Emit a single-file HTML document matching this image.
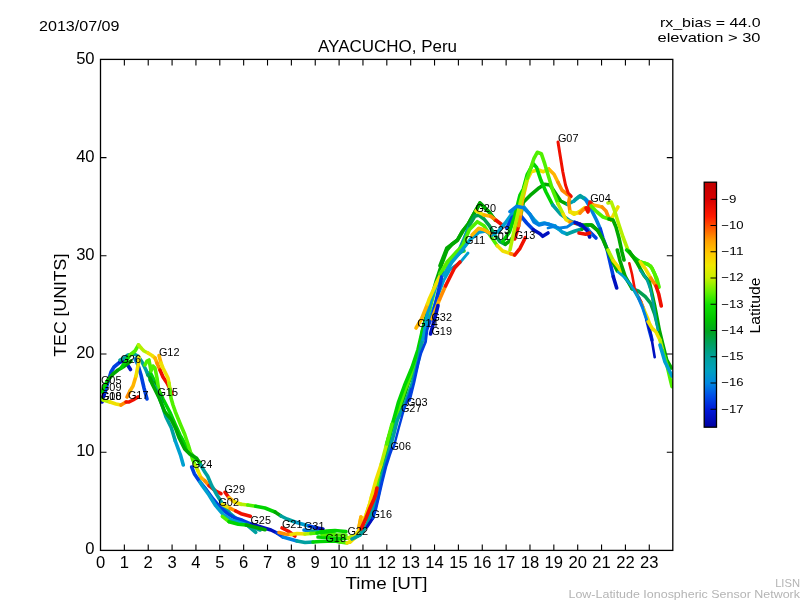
<!DOCTYPE html>
<html><head><meta charset="utf-8"><style>
html,body{margin:0;padding:0;background:#fff;width:800px;height:600px;overflow:hidden}
svg{display:block;will-change:transform}
</style></head><body>
<svg width="800" height="600" viewBox="0 0 800 600">
<rect width="800" height="600" fill="#fff"/>
<defs><clipPath id="ax"><rect x="100.5" y="59.4" width="572.3" height="491.0"/></clipPath></defs><g clip-path="url(#ax)"><g><path d="M150.0 372.0 L154.0 380.0 L157.5 387.5 L163.0 399.0 L170.0 412.5 L175.0 424.0 L180.0 435.0 L185.0 444.0 L190.0 452.5 L195.0 458.0 L200.0 462.5" stroke="#00d400" stroke-width="3.6" fill="none" stroke-linecap="round" stroke-linejoin="round"/>
<path d="M318.0 537.0 L326.0 537.5 L334.0 538.0 L342.0 538.5 L348.0 538.0" stroke="#00d400" stroke-width="3.6" fill="none" stroke-linecap="round" stroke-linejoin="round"/>
<path d="M348.0 538.0 L352.0 536.0" stroke="#b4f000" stroke-width="3.6" fill="none" stroke-linecap="round" stroke-linejoin="round"/>
<path d="M322.0 534.5 L330.0 534.5 L338.0 535.0 L346.0 535.0" stroke="#50f000" stroke-width="3.6" fill="none" stroke-linecap="round" stroke-linejoin="round"/>
<path d="M102.0 402.0 L105.0 392.0" stroke="#0010c0" stroke-width="3.6" fill="none" stroke-linecap="round" stroke-linejoin="round"/>
<path d="M105.0 392.0 L108.0 382.0 L111.0 372.0 L114.0 367.0 L120.0 362.0" stroke="#0040e0" stroke-width="3.6" fill="none" stroke-linecap="round" stroke-linejoin="round"/>
<path d="M120.0 362.0 L124.0 361.0 L127.0 364.0 L130.5 369.5" stroke="#0010c0" stroke-width="3.6" fill="none" stroke-linecap="round" stroke-linejoin="round"/>
<path d="M102.0 392.0 L104.0 387.0 L108.0 380.0" stroke="#00d400" stroke-width="3.6" fill="none" stroke-linecap="round" stroke-linejoin="round"/>
<path d="M108.0 380.0 L113.0 374.0 L118.0 370.0 L123.0 367.0 L127.0 364.0 L131.0 361.0" stroke="#00a800" stroke-width="3.6" fill="none" stroke-linecap="round" stroke-linejoin="round"/>
<path d="M120.0 360.0 L124.0 358.0 L128.0 355.0 L134.0 354.0 L138.0 356.0 L142.0 362.0 L146.0 370.0 L148.0 375.0" stroke="#00a0a0" stroke-width="3.6" fill="none" stroke-linecap="round" stroke-linejoin="round"/>
<path d="M148.0 375.0 L154.0 383.0" stroke="#00a050" stroke-width="3.6" fill="none" stroke-linecap="round" stroke-linejoin="round"/>
<path d="M154.0 383.0 L159.0 391.0 L161.0 398.0 L162.0 402.0" stroke="#00a800" stroke-width="3.6" fill="none" stroke-linecap="round" stroke-linejoin="round"/>
<path d="M135.0 359.0 L138.0 365.0" stroke="#0080e0" stroke-width="3.6" fill="none" stroke-linecap="round" stroke-linejoin="round"/>
<path d="M138.0 365.0 L141.0 375.0 L144.0 388.0 L147.0 399.0" stroke="#0040e0" stroke-width="3.6" fill="none" stroke-linecap="round" stroke-linejoin="round"/>
<path d="M101.0 398.0 L103.0 400.0" stroke="#00d400" stroke-width="3.6" fill="none" stroke-linecap="round" stroke-linejoin="round"/>
<path d="M103.0 400.0 L110.0 402.0" stroke="#b4f000" stroke-width="3.6" fill="none" stroke-linecap="round" stroke-linejoin="round"/>
<path d="M110.0 402.0 L116.0 404.0 L121.0 405.0" stroke="#f0e000" stroke-width="3.6" fill="none" stroke-linecap="round" stroke-linejoin="round"/>
<path d="M121.0 405.0 L126.0 402.0" stroke="#ff8c00" stroke-width="3.6" fill="none" stroke-linecap="round" stroke-linejoin="round"/>
<path d="M126.0 402.0 L129.0 402.0 L133.0 400.0 L138.0 397.0" stroke="#f01000" stroke-width="3.6" fill="none" stroke-linecap="round" stroke-linejoin="round"/>
<path d="M127.0 397.0 L130.0 391.0" stroke="#ff8c00" stroke-width="3.6" fill="none" stroke-linecap="round" stroke-linejoin="round"/>
<path d="M130.0 391.0 L133.0 386.0 L136.0 376.0" stroke="#ffb400" stroke-width="3.6" fill="none" stroke-linecap="round" stroke-linejoin="round"/>
<path d="M136.0 376.0 L137.5 368.0 L139.0 361.0 L139.0 357.0" stroke="#f0e000" stroke-width="3.6" fill="none" stroke-linecap="round" stroke-linejoin="round"/>
<path d="M121.0 368.0 L126.0 361.0 L130.0 355.0" stroke="#00d400" stroke-width="3.6" fill="none" stroke-linecap="round" stroke-linejoin="round"/>
<path d="M130.0 355.0 L135.0 351.0 L138.5 345.0" stroke="#50f000" stroke-width="3.6" fill="none" stroke-linecap="round" stroke-linejoin="round"/>
<path d="M138.5 345.0 L142.0 349.0 L144.0 351.0 L148.0 353.0" stroke="#b4f000" stroke-width="3.6" fill="none" stroke-linecap="round" stroke-linejoin="round"/>
<path d="M148.0 353.0 L152.0 355.5 L155.0 358.0" stroke="#f0e000" stroke-width="3.6" fill="none" stroke-linecap="round" stroke-linejoin="round"/>
<path d="M155.0 358.0 L157.0 363.0" stroke="#ffb400" stroke-width="3.6" fill="none" stroke-linecap="round" stroke-linejoin="round"/>
<path d="M157.0 363.0 L160.0 370.0" stroke="#ff8c00" stroke-width="3.6" fill="none" stroke-linecap="round" stroke-linejoin="round"/>
<path d="M160.0 370.0 L163.0 377.0 L167.0 383.0 L170.0 389.0 L172.0 394.0" stroke="#f01000" stroke-width="3.6" fill="none" stroke-linecap="round" stroke-linejoin="round"/>
<path d="M159.0 355.5 L161.0 363.0" stroke="#ffb400" stroke-width="3.6" fill="none" stroke-linecap="round" stroke-linejoin="round"/>
<path d="M161.0 363.0 L163.0 368.0 L166.0 374.0 L168.0 378.0 L169.0 383.0" stroke="#f0e000" stroke-width="3.6" fill="none" stroke-linecap="round" stroke-linejoin="round"/>
<path d="M169.0 383.0 L170.0 390.0" stroke="#b4f000" stroke-width="3.6" fill="none" stroke-linecap="round" stroke-linejoin="round"/>
<path d="M170.0 390.0 L171.0 398.0 L173.0 405.0 L175.3 411.7 L180.7 425.0 L184.7 434.3 L188.7 446.3 L192.7 459.7 L195.3 465.0" stroke="#50f000" stroke-width="3.6" fill="none" stroke-linecap="round" stroke-linejoin="round"/>
<path d="M195.3 465.0 L198.0 471.0" stroke="#b4f000" stroke-width="3.6" fill="none" stroke-linecap="round" stroke-linejoin="round"/>
<path d="M198.0 471.0 L201.0 477.7" stroke="#f0e000" stroke-width="3.6" fill="none" stroke-linecap="round" stroke-linejoin="round"/>
<path d="M201.0 477.7 L205.0 481.0" stroke="#ffb400" stroke-width="3.6" fill="none" stroke-linecap="round" stroke-linejoin="round"/>
<path d="M205.0 481.0 L209.0 485.7" stroke="#ff8c00" stroke-width="3.6" fill="none" stroke-linecap="round" stroke-linejoin="round"/>
<path d="M209.0 485.7 L215.7 491.0 L221.0 493.7" stroke="#f01000" stroke-width="3.6" fill="none" stroke-linecap="round" stroke-linejoin="round"/>
<path d="M145.0 365.0 L147.0 361.0 L149.0 360.0 L151.0 371.0 L153.0 366.0 L155.0 368.0 L157.0 378.0 L158.0 385.0 L159.0 392.0" stroke="#50f000" stroke-width="3.6" fill="none" stroke-linecap="round" stroke-linejoin="round"/>
<path d="M150.0 380.0 L155.3 387.7 L160.7 401.0 L166.0 417.0 L171.3 427.7 L175.3 441.0" stroke="#00a0a0" stroke-width="3.6" fill="none" stroke-linecap="round" stroke-linejoin="round"/>
<path d="M175.3 441.0 L180.7 455.7 L183.3 465.0" stroke="#00a0d0" stroke-width="3.6" fill="none" stroke-linecap="round" stroke-linejoin="round"/>
<path d="M150.0 378.0 L152.7 385.0 L159.3 398.3 L164.7 411.7 L171.3 419.7 L175.3 427.7 L179.3 438.3 L184.7 449.0 L190.0 454.3 L196.7 458.3 L200.7 465.0" stroke="#00a800" stroke-width="3.6" fill="none" stroke-linecap="round" stroke-linejoin="round"/>
<path d="M200.7 465.0 L205.0 472.3 L207.7 476.3 L211.7 485.7 L217.0 495.0 L223.7 505.7 L230.3 513.7 L238.3 520.3 L246.3 524.3 L255.7 532.3" stroke="#00a0a0" stroke-width="3.6" fill="none" stroke-linecap="round" stroke-linejoin="round"/>
<path d="M191.7 467.0 L194.3 473.7 L199.7 481.7 L206.3 489.7 L213.0 499.0 L219.7 507.0 L227.7 513.7 L234.3 517.7 L242.3 520.3 L251.7 524.3" stroke="#0040e0" stroke-width="3.6" fill="none" stroke-linecap="round" stroke-linejoin="round"/>
<path d="M251.7 524.3 L265.0 528.3 L271.0 530.0 L277.0 533.0" stroke="#0010c0" stroke-width="3.6" fill="none" stroke-linecap="round" stroke-linejoin="round"/>
<path d="M277.0 533.0 L283.0 537.0" stroke="#0040e0" stroke-width="3.6" fill="none" stroke-linecap="round" stroke-linejoin="round"/>
<path d="M283.0 537.0 L290.0 539.0 L297.0 541.0" stroke="#0080e0" stroke-width="3.6" fill="none" stroke-linecap="round" stroke-linejoin="round"/>
<path d="M297.0 541.0 L305.0 542.5 L313.0 542.0" stroke="#00a0a0" stroke-width="3.6" fill="none" stroke-linecap="round" stroke-linejoin="round"/>
<path d="M313.0 542.0 L320.0 541.5 L335.0 541.0 L340.0 542.0" stroke="#00d400" stroke-width="3.6" fill="none" stroke-linecap="round" stroke-linejoin="round"/>
<path d="M340.0 542.0 L347.0 543.0" stroke="#50f000" stroke-width="3.6" fill="none" stroke-linecap="round" stroke-linejoin="round"/>
<path d="M347.0 543.0 L351.0 541.0 L356.0 537.0" stroke="#f0e000" stroke-width="3.6" fill="none" stroke-linecap="round" stroke-linejoin="round"/>
<path d="M200.0 482.0 L202.3 485.7 L209.0 495.0 L215.7 505.7 L223.7 515.0 L231.7 520.3 L241.0 523.0 L249.0 525.7" stroke="#00a0d0" stroke-width="3.6" fill="none" stroke-linecap="round" stroke-linejoin="round"/>
<path d="M249.0 525.7 L260.0 530.0" stroke="#00a0a0" stroke-width="3.6" fill="none" stroke-linecap="round" stroke-linejoin="round"/>
<path d="M225.0 492.3 L229.0 497.7" stroke="#f01000" stroke-width="3.6" fill="none" stroke-linecap="round" stroke-linejoin="round"/>
<path d="M229.0 497.7 L234.3 501.7" stroke="#ffb400" stroke-width="3.6" fill="none" stroke-linecap="round" stroke-linejoin="round"/>
<path d="M234.3 501.7 L241.0 504.3" stroke="#f0e000" stroke-width="3.6" fill="none" stroke-linecap="round" stroke-linejoin="round"/>
<path d="M241.0 504.3 L247.7 505.0" stroke="#b4f000" stroke-width="3.6" fill="none" stroke-linecap="round" stroke-linejoin="round"/>
<path d="M247.7 505.0 L255.7 506.3" stroke="#50f000" stroke-width="3.6" fill="none" stroke-linecap="round" stroke-linejoin="round"/>
<path d="M255.7 506.3 L265.0 508.0 L275.0 512.0" stroke="#00d400" stroke-width="3.6" fill="none" stroke-linecap="round" stroke-linejoin="round"/>
<path d="M275.0 512.0 L281.0 516.0" stroke="#00a800" stroke-width="3.6" fill="none" stroke-linecap="round" stroke-linejoin="round"/>
<path d="M281.0 516.0 L287.0 519.0 L295.0 522.0" stroke="#00a0a0" stroke-width="3.6" fill="none" stroke-linecap="round" stroke-linejoin="round"/>
<path d="M295.0 522.0 L302.0 524.0 L309.0 526.0" stroke="#00a0d0" stroke-width="3.6" fill="none" stroke-linecap="round" stroke-linejoin="round"/>
<path d="M309.0 526.0 L317.0 528.0" stroke="#0040e0" stroke-width="3.6" fill="none" stroke-linecap="round" stroke-linejoin="round"/>
<path d="M317.0 528.0 L323.0 529.0" stroke="#0010c0" stroke-width="3.6" fill="none" stroke-linecap="round" stroke-linejoin="round"/>
<path d="M222.3 504.3 L230.3 508.3" stroke="#f0e000" stroke-width="3.6" fill="none" stroke-linecap="round" stroke-linejoin="round"/>
<path d="M230.3 508.3 L235.7 511.0" stroke="#ff8c00" stroke-width="3.6" fill="none" stroke-linecap="round" stroke-linejoin="round"/>
<path d="M235.7 511.0 L241.0 513.7 L250.3 516.3" stroke="#f01000" stroke-width="3.6" fill="none" stroke-linecap="round" stroke-linejoin="round"/>
<path d="M222.3 516.3 L229.0 521.7" stroke="#50f000" stroke-width="3.6" fill="none" stroke-linecap="round" stroke-linejoin="round"/>
<path d="M229.0 521.7 L238.3 524.3 L246.3 525.0" stroke="#00d400" stroke-width="3.6" fill="none" stroke-linecap="round" stroke-linejoin="round"/>
<path d="M246.3 525.0 L254.3 527.0 L265.0 529.7" stroke="#00a800" stroke-width="3.6" fill="none" stroke-linecap="round" stroke-linejoin="round"/>
<path d="M304.0 530.0 L311.0 531.0" stroke="#0080e0" stroke-width="3.6" fill="none" stroke-linecap="round" stroke-linejoin="round"/>
<path d="M311.0 531.0 L320.0 532.0" stroke="#00a0a0" stroke-width="3.6" fill="none" stroke-linecap="round" stroke-linejoin="round"/>
<path d="M320.0 532.0 L327.0 531.0 L335.0 530.5 L340.0 531.0 L346.0 531.5" stroke="#00d400" stroke-width="3.6" fill="none" stroke-linecap="round" stroke-linejoin="round"/>
<path d="M282.0 528.0 L288.0 531.0 L295.0 536.0" stroke="#f01000" stroke-width="3.6" fill="none" stroke-linecap="round" stroke-linejoin="round"/>
<path d="M279.0 532.5 L285.0 534.0 L291.0 534.5" stroke="#ff8c00" stroke-width="3.6" fill="none" stroke-linecap="round" stroke-linejoin="round"/>
<path d="M291.0 534.5 L297.0 533.5 L305.0 534.0" stroke="#f0e000" stroke-width="3.6" fill="none" stroke-linecap="round" stroke-linejoin="round"/>
<path d="M305.0 534.0 L311.0 533.5" stroke="#b4f000" stroke-width="3.6" fill="none" stroke-linecap="round" stroke-linejoin="round"/>
<path d="M311.0 533.5 L317.0 533.0" stroke="#50f000" stroke-width="3.6" fill="none" stroke-linecap="round" stroke-linejoin="round"/>
<path d="M317.0 533.0 L325.0 532.0 L335.0 531.0" stroke="#00d400" stroke-width="3.6" fill="none" stroke-linecap="round" stroke-linejoin="round"/>
<path d="M359.0 527.0 L361.0 517.0" stroke="#ffb400" stroke-width="3.6" fill="none" stroke-linecap="round" stroke-linejoin="round"/>
<path d="M350.0 542.0 L356.0 535.0 L362.0 526.0 L366.0 515.0 L370.0 503.0 L372.0 495.0" stroke="#f0e000" stroke-width="3.6" fill="none" stroke-linecap="round" stroke-linejoin="round"/>
<path d="M360.0 531.0 L366.0 518.0 L370.0 508.0 L374.0 499.0 L375.5 495.0" stroke="#f01000" stroke-width="3.6" fill="none" stroke-linecap="round" stroke-linejoin="round"/>
<path d="M366.0 527.0 L372.0 518.0" stroke="#0010c0" stroke-width="3.6" fill="none" stroke-linecap="round" stroke-linejoin="round"/>
<path d="M372.0 518.0 L375.0 508.0 L378.0 495.0" stroke="#0040e0" stroke-width="3.6" fill="none" stroke-linecap="round" stroke-linejoin="round"/>
<path d="M352.0 539.0 L360.0 535.0 L365.0 528.0 L367.0 525.0" stroke="#00a0a0" stroke-width="3.6" fill="none" stroke-linecap="round" stroke-linejoin="round"/>
<path d="M380.0 478.0 L383.0 468.0 L386.7 444.0 L391.0 430.0 L395.0 420.0 L400.5 408.0 L408.0 384.0 L415.5 364.5 L419.0 352.0 L423.0 328.0 L430.5 301.0 L436.5 280.0 L442.5 262.0 L447.0 250.0 L452.0 244.3 L457.3 240.3 L462.7 231.0 L468.0 224.3 L474.7 212.3 L480.0 203.0 L484.0 207.0 L489.3 212.3 L495.0 220.0" stroke="#00a800" stroke-width="3.6" fill="none" stroke-linecap="round" stroke-linejoin="round"/>
<path d="M376.0 490.0 L378.7 478.7 L384.0 461.0 L388.0 440.0 L393.3 422.0 L399.0 408.0 L405.0 390.0 L414.0 367.5 L417.0 360.0 L420.0 350.0 L423.0 337.0" stroke="#50f000" stroke-width="3.6" fill="none" stroke-linecap="round" stroke-linejoin="round"/>
<path d="M423.0 337.0 L427.5 318.0" stroke="#00d400" stroke-width="3.6" fill="none" stroke-linecap="round" stroke-linejoin="round"/>
<path d="M427.5 318.0 L436.5 283.0 L447.0 262.0 L456.0 253.0 L464.0 251.0" stroke="#50f000" stroke-width="3.6" fill="none" stroke-linecap="round" stroke-linejoin="round"/>
<path d="M381.0 472.0 L385.0 455.0 L389.0 440.0 L392.5 424.0 L398.5 402.0 L404.5 385.5 L412.0 367.5 L418.0 349.5 L422.5 330.0" stroke="#00d400" stroke-width="3.6" fill="none" stroke-linecap="round" stroke-linejoin="round"/>
<path d="M350.0 542.0 L356.0 535.0 L362.0 526.0 L366.0 515.0 L370.0 503.0 L372.0 495.0 L376.0 480.0 L381.3 464.0" stroke="#f0e000" stroke-width="3.6" fill="none" stroke-linecap="round" stroke-linejoin="round"/>
<path d="M381.3 464.0 L386.7 444.0" stroke="#b4f000" stroke-width="3.6" fill="none" stroke-linecap="round" stroke-linejoin="round"/>
<path d="M386.7 444.0 L392.0 424.0" stroke="#50f000" stroke-width="3.6" fill="none" stroke-linecap="round" stroke-linejoin="round"/>
<path d="M352.0 539.0 L360.0 535.0 L365.0 528.0 L367.0 525.0 L372.0 510.0 L377.3 500.0 L382.7 473.0 L388.0 454.7 L393.3 436.0 L397.3 420.0 L405.0 403.5 L412.5 382.5 L418.5 360.0 L421.0 345.0 L424.0 335.0" stroke="#00a0a0" stroke-width="3.6" fill="none" stroke-linecap="round" stroke-linejoin="round"/>
<path d="M424.0 335.0 L427.5 313.0 L433.5 292.0 L439.5 277.0" stroke="#00a0d0" stroke-width="3.6" fill="none" stroke-linecap="round" stroke-linejoin="round"/>
<path d="M439.5 277.0 L448.5 262.0 L456.0 256.0 L463.5 250.0" stroke="#00a0a0" stroke-width="3.6" fill="none" stroke-linecap="round" stroke-linejoin="round"/>
<path d="M423.0 340.0 L430.5 316.0 L436.5 299.5 L444.0 280.0 L450.0 269.5 L460.5 262.0 L468.0 253.0" stroke="#00a0d0" stroke-width="2.8" fill="none" stroke-linecap="round" stroke-linejoin="round"/>
<path d="M409.5 400.5 L414.0 382.5 L418.5 362.0 L421.0 353.0 L425.5 342.0 L427.0 330.0 L431.5 318.0" stroke="#0040e0" stroke-width="2.8" fill="none" stroke-linecap="round" stroke-linejoin="round"/>
<path d="M367.0 527.0 L373.0 518.0" stroke="#0010c0" stroke-width="3.0" fill="none" stroke-linecap="round" stroke-linejoin="round"/>
<path d="M373.0 518.0 L376.0 508.0 L379.0 495.0 L382.0 482.0 L386.0 466.0 L389.5 455.0 L392.0 448.0" stroke="#0040e0" stroke-width="3.0" fill="none" stroke-linecap="round" stroke-linejoin="round"/>
<path d="M393.5 448.0 L398.5 429.0 L403.5 411.0 L409.0 396.0 L411.0 389.0" stroke="#0040e0" stroke-width="2.4" fill="none" stroke-linecap="round" stroke-linejoin="round"/>
<path d="M359.0 527.0 L361.0 517.0" stroke="#ffb400" stroke-width="3.6" fill="none" stroke-linecap="round" stroke-linejoin="round"/>
<path d="M361.0 529.0 L366.0 518.0 L370.0 508.0 L374.0 499.0 L375.5 495.0 L377.0 488.0" stroke="#f01000" stroke-width="3.6" fill="none" stroke-linecap="round" stroke-linejoin="round"/>
<path d="M416.0 328.0 L421.5 319.0 L427.5 304.0" stroke="#ffb400" stroke-width="3.6" fill="none" stroke-linecap="round" stroke-linejoin="round"/>
<path d="M427.5 304.0 L429.0 299.5 L436.5 283.0 L445.5 265.0" stroke="#f0e000" stroke-width="3.6" fill="none" stroke-linecap="round" stroke-linejoin="round"/>
<path d="M445.5 265.0 L450.0 259.0 L457.5 253.0" stroke="#b4f000" stroke-width="3.6" fill="none" stroke-linecap="round" stroke-linejoin="round"/>
<path d="M432.0 319.0 L436.5 299.5 L441.0 280.0 L442.5 272.5" stroke="#0040e0" stroke-width="3.6" fill="none" stroke-linecap="round" stroke-linejoin="round"/>
<path d="M432.0 319.0 L439.5 299.5" stroke="#ffb400" stroke-width="3.6" fill="none" stroke-linecap="round" stroke-linejoin="round"/>
<path d="M439.5 299.5 L445.5 286.0" stroke="#ff8c00" stroke-width="3.6" fill="none" stroke-linecap="round" stroke-linejoin="round"/>
<path d="M445.5 286.0 L450.0 277.0 L454.5 268.0 L460.0 262.0" stroke="#f01000" stroke-width="3.6" fill="none" stroke-linecap="round" stroke-linejoin="round"/>
<path d="M430.5 334.0 L435.0 317.5 L438.0 305.5" stroke="#0010c0" stroke-width="3.6" fill="none" stroke-linecap="round" stroke-linejoin="round"/>
<path d="M440.0 265.7 L446.7 248.3 L452.0 244.3 L457.3 240.3 L462.7 231.0 L468.0 224.3 L474.7 212.3 L480.0 203.0 L484.0 207.0 L489.3 212.3 L495.0 220.0" stroke="#00a800" stroke-width="3.6" fill="none" stroke-linecap="round" stroke-linejoin="round"/>
<path d="M458.7 251.0 L464.0 239.0 L469.3 225.7" stroke="#00a0a0" stroke-width="3.6" fill="none" stroke-linecap="round" stroke-linejoin="round"/>
<path d="M469.3 225.7 L474.7 216.3 L478.7 215.0 L484.0 219.0 L489.3 225.7 L494.7 235.0 L500.0 241.7 L505.3 244.3" stroke="#00a050" stroke-width="3.6" fill="none" stroke-linecap="round" stroke-linejoin="round"/>
<path d="M505.3 244.3 L510.7 240.3 L516.0 232.3 L520.0 219.0 L523.3 202.3 L531.3 194.3 L539.3 187.7 L544.7 184.3 L550.0 185.0 L555.3 193.0 L560.7 201.0 L567.3 204.3" stroke="#00a800" stroke-width="3.6" fill="none" stroke-linecap="round" stroke-linejoin="round"/>
<path d="M567.3 204.3 L574.0 201.0" stroke="#00a0a0" stroke-width="3.6" fill="none" stroke-linecap="round" stroke-linejoin="round"/>
<path d="M574.0 201.0 L579.3 196.3 L584.7 198.3 L590.0 203.7" stroke="#00a0d0" stroke-width="3.6" fill="none" stroke-linecap="round" stroke-linejoin="round"/>
<path d="M476.0 211.0 L484.0 215.0" stroke="#f0e000" stroke-width="3.6" fill="none" stroke-linecap="round" stroke-linejoin="round"/>
<path d="M484.0 215.0 L490.7 216.3" stroke="#ffb400" stroke-width="3.6" fill="none" stroke-linecap="round" stroke-linejoin="round"/>
<path d="M490.7 216.3 L496.0 220.3" stroke="#ff8c00" stroke-width="3.6" fill="none" stroke-linecap="round" stroke-linejoin="round"/>
<path d="M496.0 220.3 L501.3 224.3 L503.0 227.0" stroke="#f01000" stroke-width="3.6" fill="none" stroke-linecap="round" stroke-linejoin="round"/>
<path d="M440.0 273.7 L448.0 261.7 L456.0 252.3 L462.7 245.7 L469.3 229.7 L477.3 221.7 L484.0 225.7 L490.7 236.3 L497.3 245.7" stroke="#50f000" stroke-width="3.6" fill="none" stroke-linecap="round" stroke-linejoin="round"/>
<path d="M497.3 245.7 L502.7 251.0 L510.7 253.7" stroke="#f0e000" stroke-width="3.6" fill="none" stroke-linecap="round" stroke-linejoin="round"/>
<path d="M510.7 253.7 L514.7 255.0" stroke="#ff8c00" stroke-width="3.6" fill="none" stroke-linecap="round" stroke-linejoin="round"/>
<path d="M514.7 255.0 L520.0 248.3 L525.3 237.7" stroke="#f01000" stroke-width="3.6" fill="none" stroke-linecap="round" stroke-linejoin="round"/>
<path d="M444.0 275.0 L452.0 262.0 L461.3 251.0 L470.7 239.0 L478.7 232.3 L485.3 231.0 L492.0 235.0 L498.7 231.0 L505.3 223.0 L512.0 213.7 L518.7 205.7 L524.0 207.0 L529.3 213.7 L534.7 220.3 L538.7 224.3 L544.0 223.0 L549.3 224.3 L554.7 227.0 L560.0 229.7" stroke="#00a0d0" stroke-width="3.6" fill="none" stroke-linecap="round" stroke-linejoin="round"/>
<path d="M472.0 235.0 L478.7 228.3 L484.0 229.7 L490.7 233.7" stroke="#ffb400" stroke-width="3.6" fill="none" stroke-linecap="round" stroke-linejoin="round"/>
<path d="M506.7 228.3 L512.0 217.7 L517.3 213.7 L521.3 216.3 L526.7 223.0 L533.3 229.7" stroke="#0040e0" stroke-width="3.6" fill="none" stroke-linecap="round" stroke-linejoin="round"/>
<path d="M533.3 229.7 L540.0 233.7 L542.7 236.3 L548.0 233.0" stroke="#0010c0" stroke-width="3.6" fill="none" stroke-linecap="round" stroke-linejoin="round"/>
<path d="M514.7 239.0 L518.7 225.7" stroke="#f01000" stroke-width="3.6" fill="none" stroke-linecap="round" stroke-linejoin="round"/>
<path d="M518.7 225.7 L520.7 214.0" stroke="#ff8c00" stroke-width="3.6" fill="none" stroke-linecap="round" stroke-linejoin="round"/>
<path d="M520.7 214.0 L522.0 202.0 L527.3 179.7" stroke="#ffb400" stroke-width="3.6" fill="none" stroke-linecap="round" stroke-linejoin="round"/>
<path d="M527.3 179.7 L531.3 171.7 L538.0 169.7 L543.3 171.7 L548.7 169.0" stroke="#f0e000" stroke-width="3.6" fill="none" stroke-linecap="round" stroke-linejoin="round"/>
<path d="M548.7 169.0 L554.0 174.3 L558.0 182.3" stroke="#ffb400" stroke-width="3.6" fill="none" stroke-linecap="round" stroke-linejoin="round"/>
<path d="M558.0 182.3 L562.0 190.3 L567.3 194.3" stroke="#ff8c00" stroke-width="3.6" fill="none" stroke-linecap="round" stroke-linejoin="round"/>
<path d="M567.3 194.3 L570.0 195.7 L568.7 202.3 L570.0 211.7" stroke="#ff8c00" stroke-width="3.6" fill="none" stroke-linecap="round" stroke-linejoin="round"/>
<path d="M570.0 211.7 L574.0 214.3 L579.3 211.7 L584.7 207.7" stroke="#f0e000" stroke-width="3.6" fill="none" stroke-linecap="round" stroke-linejoin="round"/>
<path d="M502.7 241.7 L509.3 232.3 L514.7 216.3 L520.0 195.0 L523.3 189.0 L527.3 174.3 L533.3 163.7 L536.7 167.7 L540.7 179.7 L546.0 192.0 L552.7 205.0" stroke="#00d400" stroke-width="3.6" fill="none" stroke-linecap="round" stroke-linejoin="round"/>
<path d="M552.7 205.0 L560.7 214.3 L570.0 221.0 L580.0 225.0" stroke="#00a0a0" stroke-width="3.6" fill="none" stroke-linecap="round" stroke-linejoin="round"/>
<path d="M580.0 225.0 L590.0 232.0 L596.0 238.0" stroke="#0040e0" stroke-width="3.6" fill="none" stroke-linecap="round" stroke-linejoin="round"/>
<path d="M510.0 250.0 L515.3 225.0 L520.7 201.0 L527.3 178.3" stroke="#b4f000" stroke-width="3.6" fill="none" stroke-linecap="round" stroke-linejoin="round"/>
<path d="M527.3 178.3 L534.0 158.3 L537.3 152.3 L541.3 153.7 L544.7 163.7 L548.7 177.0 L552.7 190.3 L558.0 203.7" stroke="#50f000" stroke-width="3.6" fill="none" stroke-linecap="round" stroke-linejoin="round"/>
<path d="M558.0 203.7 L563.3 214.3" stroke="#b4f000" stroke-width="3.6" fill="none" stroke-linecap="round" stroke-linejoin="round"/>
<path d="M563.3 214.3 L566.0 219.7 L570.0 222.0" stroke="#f0e000" stroke-width="3.6" fill="none" stroke-linecap="round" stroke-linejoin="round"/>
<path d="M570.0 222.0 L575.0 223.0" stroke="#ff8c00" stroke-width="3.6" fill="none" stroke-linecap="round" stroke-linejoin="round"/>
<path d="M575.0 223.0 L580.0 224.0" stroke="#f01000" stroke-width="3.6" fill="none" stroke-linecap="round" stroke-linejoin="round"/>
<path d="M510.0 211.7 L516.7 206.3 L523.3 207.7 L530.0 214.3 L534.0 222.0 L539.0 225.0 L545.0 223.5 L555.0 226.0" stroke="#0080e0" stroke-width="3.6" fill="none" stroke-linecap="round" stroke-linejoin="round"/>
<path d="M555.0 226.0 L562.0 232.0 L567.0 234.0" stroke="#00a0d0" stroke-width="3.6" fill="none" stroke-linecap="round" stroke-linejoin="round"/>
<path d="M567.0 234.0 L575.0 231.0 L582.0 229.0" stroke="#00a0a0" stroke-width="3.6" fill="none" stroke-linecap="round" stroke-linejoin="round"/>
<path d="M582.0 229.0 L586.0 225.0 L592.0 225.0 L598.0 231.0 L602.0 237.0" stroke="#00a800" stroke-width="3.6" fill="none" stroke-linecap="round" stroke-linejoin="round"/>
<path d="M548.0 228.0 L555.0 226.5 L560.0 228.0 L567.0 227.0 L574.7 222.0 L580.0 224.0 L585.7 226.0 L589.0 230.0 L591.0 235.0" stroke="#0080e0" stroke-width="2.8" fill="none" stroke-linecap="round" stroke-linejoin="round"/>
<path d="M558.0 142.0 L560.2 155.7 L562.8 171.7 L565.5 185.0 L568.2 193.0 L571.3 196.3" stroke="#f01000" stroke-width="3.0" fill="none" stroke-linecap="round" stroke-linejoin="round"/>
<path d="M575.0 199.7 L580.3 195.7 L585.7 199.7" stroke="#00a0a0" stroke-width="3.6" fill="none" stroke-linecap="round" stroke-linejoin="round"/>
<path d="M585.7 199.7 L591.0 209.0 L596.3 219.7 L600.3 229.0" stroke="#0080e0" stroke-width="3.6" fill="none" stroke-linecap="round" stroke-linejoin="round"/>
<path d="M600.3 229.0 L603.0 238.3 L607.0 249.0 L610.0 262.0 L613.3 276.7" stroke="#0040e0" stroke-width="3.6" fill="none" stroke-linecap="round" stroke-linejoin="round"/>
<path d="M613.3 276.7 L616.7 288.0" stroke="#0010c0" stroke-width="3.6" fill="none" stroke-linecap="round" stroke-linejoin="round"/>
<path d="M570.0 212.0 L575.0 213.0 L580.0 213.0" stroke="#f0e000" stroke-width="3.6" fill="none" stroke-linecap="round" stroke-linejoin="round"/>
<path d="M580.0 213.0 L583.0 210.0 L586.0 208.0" stroke="#ff8c00" stroke-width="3.6" fill="none" stroke-linecap="round" stroke-linejoin="round"/>
<path d="M586.0 208.0 L588.0 212.0 L590.0 202.0 L593.0 205.0" stroke="#f01000" stroke-width="3.6" fill="none" stroke-linecap="round" stroke-linejoin="round"/>
<path d="M593.0 205.0 L598.0 206.0 L602.0 207.0" stroke="#ffb400" stroke-width="3.6" fill="none" stroke-linecap="round" stroke-linejoin="round"/>
<path d="M602.0 207.0 L606.0 211.0 L608.0 216.0 L611.0 220.0" stroke="#ff8c00" stroke-width="3.6" fill="none" stroke-linecap="round" stroke-linejoin="round"/>
<path d="M611.0 220.0 L615.0 212.0 L618.0 207.0" stroke="#f0e000" stroke-width="3.6" fill="none" stroke-linecap="round" stroke-linejoin="round"/>
<path d="M591.0 206.0 L597.0 212.0 L603.0 217.0 L609.0 219.0" stroke="#50f000" stroke-width="3.6" fill="none" stroke-linecap="round" stroke-linejoin="round"/>
<path d="M609.0 219.0 L613.0 220.0 L616.0 227.0 L619.0 238.0 L622.0 252.0 L624.0 260.0" stroke="#00a800" stroke-width="3.6" fill="none" stroke-linecap="round" stroke-linejoin="round"/>
<path d="M608.0 203.0 L611.3 202.0 L615.0 212.0 L618.7 224.0 L623.0 237.0 L627.8 249.7 L632.0 256.0 L637.0 260.7" stroke="#b4f000" stroke-width="3.6" fill="none" stroke-linecap="round" stroke-linejoin="round"/>
<path d="M637.0 260.7 L642.0 262.5 L648.0 264.3 L652.0 268.0 L657.0 279.0 L659.0 287.0" stroke="#50f000" stroke-width="3.6" fill="none" stroke-linecap="round" stroke-linejoin="round"/>
<path d="M583.0 225.0 L591.0 225.0 L597.7 230.3 L603.0 239.7 L608.3 251.7 L613.7 263.7 L617.3 271.0" stroke="#00a800" stroke-width="3.6" fill="none" stroke-linecap="round" stroke-linejoin="round"/>
<path d="M575.0 222.3 L581.7 225.0 L587.0 230.3 L589.7 237.0" stroke="#0010c0" stroke-width="3.6" fill="none" stroke-linecap="round" stroke-linejoin="round"/>
<path d="M579.0 233.0 L585.7 234.3 L589.7 233.0" stroke="#f01000" stroke-width="3.6" fill="none" stroke-linecap="round" stroke-linejoin="round"/>
<path d="M608.0 250.0 L613.3 260.7" stroke="#b4f000" stroke-width="3.6" fill="none" stroke-linecap="round" stroke-linejoin="round"/>
<path d="M613.3 260.7 L618.7 267.3 L622.7 274.0" stroke="#f0e000" stroke-width="3.6" fill="none" stroke-linecap="round" stroke-linejoin="round"/>
<path d="M622.7 274.0 L625.3 278.0 L633.3 288.7 L638.7 298.0" stroke="#00a0d0" stroke-width="3.6" fill="none" stroke-linecap="round" stroke-linejoin="round"/>
<path d="M638.7 298.0 L642.7 307.3 L646.7 319.3" stroke="#0080e0" stroke-width="3.6" fill="none" stroke-linecap="round" stroke-linejoin="round"/>
<path d="M646.7 319.3 L649.3 330.0 L652.0 340.0" stroke="#0040e0" stroke-width="3.6" fill="none" stroke-linecap="round" stroke-linejoin="round"/>
<path d="M617.3 250.0 L620.0 260.7 L625.3 276.7 L632.0 288.7" stroke="#00a800" stroke-width="3.6" fill="none" stroke-linecap="round" stroke-linejoin="round"/>
<path d="M632.0 288.7 L638.7 291.3 L645.3 296.7 L650.7 303.3 L654.7 314.0 L658.7 330.0" stroke="#00a050" stroke-width="3.6" fill="none" stroke-linecap="round" stroke-linejoin="round"/>
<path d="M629.3 263.3 L632.0 274.0 L634.7 288.7 L637.3 295.3 L641.3 302.0" stroke="#f01000" stroke-width="2.6" fill="none" stroke-linecap="round" stroke-linejoin="round"/>
<path d="M641.3 302.0 L644.0 308.7" stroke="#ff8c00" stroke-width="2.6" fill="none" stroke-linecap="round" stroke-linejoin="round"/>
<path d="M644.0 308.7 L648.0 318.0 L652.0 330.0" stroke="#f0e000" stroke-width="2.6" fill="none" stroke-linecap="round" stroke-linejoin="round"/>
<path d="M626.7 250.0 L634.7 258.0 L640.0 262.0" stroke="#00d400" stroke-width="3.6" fill="none" stroke-linecap="round" stroke-linejoin="round"/>
<path d="M640.0 262.0 L645.3 263.3 L650.7 266.0 L654.7 274.0 L658.7 287.3" stroke="#50f000" stroke-width="3.6" fill="none" stroke-linecap="round" stroke-linejoin="round"/>
<path d="M640.0 262.0 L645.3 268.7 L650.7 278.0" stroke="#f0e000" stroke-width="3.6" fill="none" stroke-linecap="round" stroke-linejoin="round"/>
<path d="M650.7 278.0 L656.0 286.0" stroke="#ff8c00" stroke-width="3.6" fill="none" stroke-linecap="round" stroke-linejoin="round"/>
<path d="M656.0 286.0 L658.7 294.0 L661.3 306.0" stroke="#f01000" stroke-width="3.6" fill="none" stroke-linecap="round" stroke-linejoin="round"/>
<path d="M629.3 251.3 L637.3 263.3 L644.0 275.3 L649.3 282.0 L652.0 294.0 L654.7 306.0 L657.3 319.3 L659.3 330.0 L662.7 344.0 L666.7 360.0 L671.3 368.0" stroke="#00a800" stroke-width="3.6" fill="none" stroke-linecap="round" stroke-linejoin="round"/>
<path d="M646.7 320.0 L650.7 333.3 L654.7 357.3" stroke="#0010c0" stroke-width="2.6" fill="none" stroke-linecap="round" stroke-linejoin="round"/>
<path d="M648.0 321.3 L652.0 328.0 L656.0 332.0 L660.0 340.0" stroke="#f0e000" stroke-width="3.6" fill="none" stroke-linecap="round" stroke-linejoin="round"/>
<path d="M660.0 340.0 L662.7 350.7" stroke="#b4f000" stroke-width="3.6" fill="none" stroke-linecap="round" stroke-linejoin="round"/>
<path d="M662.7 350.7 L666.7 364.0 L670.7 381.3 L672.0 386.7" stroke="#50f000" stroke-width="3.6" fill="none" stroke-linecap="round" stroke-linejoin="round"/>
<path d="M660.0 345.0 L665.0 362.0 L672.0 376.0" stroke="#00a0d0" stroke-width="3.6" fill="none" stroke-linecap="round" stroke-linejoin="round"/>
<path d="M618.0 272.0 L625.3 278.0 L633.3 288.7 L638.7 298.0" stroke="#00a0d0" stroke-width="2.6" fill="none" stroke-linecap="round" stroke-linejoin="round"/>
<path d="M638.7 298.0 L642.7 307.3 L646.7 319.3" stroke="#0080e0" stroke-width="2.6" fill="none" stroke-linecap="round" stroke-linejoin="round"/>
<path d="M640.0 270.0 L646.7 279.0 L650.7 290.0 L653.3 303.0 L656.0 320.0 L658.0 330.0" stroke="#00a0a0" stroke-width="2.6" fill="none" stroke-linecap="round" stroke-linejoin="round"/></g></g>
<text x="120.40" y="362.50" font-family="Liberation Sans, sans-serif" font-size="10.8" textLength="20.6" lengthAdjust="spacingAndGlyphs">G26</text>
<text x="100.90" y="384.00" font-family="Liberation Sans, sans-serif" font-size="10.8" textLength="20.6" lengthAdjust="spacingAndGlyphs">G05</text>
<text x="100.90" y="391.00" font-family="Liberation Sans, sans-serif" font-size="10.8" textLength="20.6" lengthAdjust="spacingAndGlyphs">G09</text>
<text x="100.90" y="399.50" font-family="Liberation Sans, sans-serif" font-size="10.8" textLength="20.6" lengthAdjust="spacingAndGlyphs">G08</text>
<text x="100.90" y="399.50" font-family="Liberation Sans, sans-serif" font-size="10.8" textLength="20.6" lengthAdjust="spacingAndGlyphs">G10</text>
<text x="127.90" y="398.80" font-family="Liberation Sans, sans-serif" font-size="10.8" textLength="20.6" lengthAdjust="spacingAndGlyphs">G17</text>
<text x="158.90" y="356.00" font-family="Liberation Sans, sans-serif" font-size="10.8" textLength="20.6" lengthAdjust="spacingAndGlyphs">G12</text>
<text x="157.40" y="395.50" font-family="Liberation Sans, sans-serif" font-size="10.8" textLength="20.6" lengthAdjust="spacingAndGlyphs">G15</text>
<text x="191.70" y="468.00" font-family="Liberation Sans, sans-serif" font-size="10.8" textLength="20.6" lengthAdjust="spacingAndGlyphs">G24</text>
<text x="224.40" y="493.00" font-family="Liberation Sans, sans-serif" font-size="10.8" textLength="20.6" lengthAdjust="spacingAndGlyphs">G29</text>
<text x="218.40" y="505.70" font-family="Liberation Sans, sans-serif" font-size="10.8" textLength="20.6" lengthAdjust="spacingAndGlyphs">G02</text>
<text x="250.40" y="524.00" font-family="Liberation Sans, sans-serif" font-size="10.8" textLength="20.6" lengthAdjust="spacingAndGlyphs">G25</text>
<text x="281.90" y="527.50" font-family="Liberation Sans, sans-serif" font-size="10.8" textLength="20.6" lengthAdjust="spacingAndGlyphs">G21</text>
<text x="303.90" y="529.50" font-family="Liberation Sans, sans-serif" font-size="10.8" textLength="20.6" lengthAdjust="spacingAndGlyphs">G31</text>
<text x="325.40" y="541.50" font-family="Liberation Sans, sans-serif" font-size="10.8" textLength="20.6" lengthAdjust="spacingAndGlyphs">G18</text>
<text x="347.40" y="535.00" font-family="Liberation Sans, sans-serif" font-size="10.8" textLength="20.6" lengthAdjust="spacingAndGlyphs">G22</text>
<text x="371.40" y="518.00" font-family="Liberation Sans, sans-serif" font-size="10.8" textLength="20.6" lengthAdjust="spacingAndGlyphs">G16</text>
<text x="390.40" y="450.00" font-family="Liberation Sans, sans-serif" font-size="10.8" textLength="20.6" lengthAdjust="spacingAndGlyphs">G06</text>
<text x="406.90" y="405.80" font-family="Liberation Sans, sans-serif" font-size="10.8" textLength="20.6" lengthAdjust="spacingAndGlyphs">G03</text>
<text x="400.90" y="411.80" font-family="Liberation Sans, sans-serif" font-size="10.8" textLength="20.6" lengthAdjust="spacingAndGlyphs">G27</text>
<text x="417.15" y="327.30" font-family="Liberation Sans, sans-serif" font-size="10.8" textLength="20.6" lengthAdjust="spacingAndGlyphs">G14</text>
<text x="431.40" y="320.50" font-family="Liberation Sans, sans-serif" font-size="10.8" textLength="20.6" lengthAdjust="spacingAndGlyphs">G32</text>
<text x="431.40" y="334.80" font-family="Liberation Sans, sans-serif" font-size="10.8" textLength="20.6" lengthAdjust="spacingAndGlyphs">G19</text>
<text x="464.70" y="243.70" font-family="Liberation Sans, sans-serif" font-size="10.8" textLength="20.6" lengthAdjust="spacingAndGlyphs">G11</text>
<text x="475.40" y="212.30" font-family="Liberation Sans, sans-serif" font-size="10.8" textLength="20.6" lengthAdjust="spacingAndGlyphs">G20</text>
<text x="489.40" y="233.50" font-family="Liberation Sans, sans-serif" font-size="10.8" textLength="20.6" lengthAdjust="spacingAndGlyphs">G23</text>
<text x="489.40" y="239.70" font-family="Liberation Sans, sans-serif" font-size="10.8" textLength="20.6" lengthAdjust="spacingAndGlyphs">G01</text>
<text x="514.70" y="239.00" font-family="Liberation Sans, sans-serif" font-size="10.8" textLength="20.6" lengthAdjust="spacingAndGlyphs">G13</text>
<text x="557.90" y="142.00" font-family="Liberation Sans, sans-serif" font-size="10.8" textLength="20.6" lengthAdjust="spacingAndGlyphs">G07</text>
<text x="590.15" y="201.80" font-family="Liberation Sans, sans-serif" font-size="10.8" textLength="20.6" lengthAdjust="spacingAndGlyphs">G04</text>
<rect x="100.5" y="59.4" width="572.3" height="491.0" fill="none" stroke="#000" stroke-width="1.3"/>
<path d="M124.36 550.4V544.4M124.36 59.4V65.4M148.22 550.4V544.4M148.22 59.4V65.4M172.08 550.4V544.4M172.08 59.4V65.4M195.94 550.4V544.4M195.94 59.4V65.4M219.80 550.4V544.4M219.80 59.4V65.4M243.66 550.4V544.4M243.66 59.4V65.4M267.52 550.4V544.4M267.52 59.4V65.4M291.38 550.4V544.4M291.38 59.4V65.4M315.24 550.4V544.4M315.24 59.4V65.4M339.10 550.4V544.4M339.10 59.4V65.4M362.96 550.4V544.4M362.96 59.4V65.4M386.82 550.4V544.4M386.82 59.4V65.4M410.68 550.4V544.4M410.68 59.4V65.4M434.54 550.4V544.4M434.54 59.4V65.4M458.40 550.4V544.4M458.40 59.4V65.4M482.26 550.4V544.4M482.26 59.4V65.4M506.12 550.4V544.4M506.12 59.4V65.4M529.98 550.4V544.4M529.98 59.4V65.4M553.84 550.4V544.4M553.84 59.4V65.4M577.70 550.4V544.4M577.70 59.4V65.4M601.56 550.4V544.4M601.56 59.4V65.4M625.42 550.4V544.4M625.42 59.4V65.4M649.28 550.4V544.4M649.28 59.4V65.4M100.5 452.20H106.5M672.8 452.20H666.8M100.5 354.00H106.5M672.8 354.00H666.8M100.5 255.80H106.5M672.8 255.80H666.8M100.5 157.60H106.5M672.8 157.60H666.8" stroke="#000" stroke-width="1.1" fill="none"/>
<text x="100.50" y="568" text-anchor="middle" font-family="Liberation Sans, sans-serif" font-size="16.6">0</text>
<text x="124.36" y="568" text-anchor="middle" font-family="Liberation Sans, sans-serif" font-size="16.6">1</text>
<text x="148.22" y="568" text-anchor="middle" font-family="Liberation Sans, sans-serif" font-size="16.6">2</text>
<text x="172.08" y="568" text-anchor="middle" font-family="Liberation Sans, sans-serif" font-size="16.6">3</text>
<text x="195.94" y="568" text-anchor="middle" font-family="Liberation Sans, sans-serif" font-size="16.6">4</text>
<text x="219.80" y="568" text-anchor="middle" font-family="Liberation Sans, sans-serif" font-size="16.6">5</text>
<text x="243.66" y="568" text-anchor="middle" font-family="Liberation Sans, sans-serif" font-size="16.6">6</text>
<text x="267.52" y="568" text-anchor="middle" font-family="Liberation Sans, sans-serif" font-size="16.6">7</text>
<text x="291.38" y="568" text-anchor="middle" font-family="Liberation Sans, sans-serif" font-size="16.6">8</text>
<text x="315.24" y="568" text-anchor="middle" font-family="Liberation Sans, sans-serif" font-size="16.6">9</text>
<text x="339.10" y="568" text-anchor="middle" font-family="Liberation Sans, sans-serif" font-size="16.6">10</text>
<text x="362.96" y="568" text-anchor="middle" font-family="Liberation Sans, sans-serif" font-size="16.6">11</text>
<text x="386.82" y="568" text-anchor="middle" font-family="Liberation Sans, sans-serif" font-size="16.6">12</text>
<text x="410.68" y="568" text-anchor="middle" font-family="Liberation Sans, sans-serif" font-size="16.6">13</text>
<text x="434.54" y="568" text-anchor="middle" font-family="Liberation Sans, sans-serif" font-size="16.6">14</text>
<text x="458.40" y="568" text-anchor="middle" font-family="Liberation Sans, sans-serif" font-size="16.6">15</text>
<text x="482.26" y="568" text-anchor="middle" font-family="Liberation Sans, sans-serif" font-size="16.6">16</text>
<text x="506.12" y="568" text-anchor="middle" font-family="Liberation Sans, sans-serif" font-size="16.6">17</text>
<text x="529.98" y="568" text-anchor="middle" font-family="Liberation Sans, sans-serif" font-size="16.6">18</text>
<text x="553.84" y="568" text-anchor="middle" font-family="Liberation Sans, sans-serif" font-size="16.6">19</text>
<text x="577.70" y="568" text-anchor="middle" font-family="Liberation Sans, sans-serif" font-size="16.6">20</text>
<text x="601.56" y="568" text-anchor="middle" font-family="Liberation Sans, sans-serif" font-size="16.6">21</text>
<text x="625.42" y="568" text-anchor="middle" font-family="Liberation Sans, sans-serif" font-size="16.6">22</text>
<text x="649.28" y="568" text-anchor="middle" font-family="Liberation Sans, sans-serif" font-size="16.6">23</text>
<text x="94.6" y="553.80" text-anchor="end" font-family="Liberation Sans, sans-serif" font-size="16.6">0</text>
<text x="94.6" y="455.80" text-anchor="end" font-family="Liberation Sans, sans-serif" font-size="16.6">10</text>
<text x="94.6" y="357.80" text-anchor="end" font-family="Liberation Sans, sans-serif" font-size="16.6">20</text>
<text x="94.6" y="259.80" text-anchor="end" font-family="Liberation Sans, sans-serif" font-size="16.6">30</text>
<text x="94.6" y="161.80" text-anchor="end" font-family="Liberation Sans, sans-serif" font-size="16.6">40</text>
<text x="94.6" y="63.80" text-anchor="end" font-family="Liberation Sans, sans-serif" font-size="16.6">50</text>
<text x="386.5" y="589.3" text-anchor="middle" font-family="Liberation Sans, sans-serif" font-size="16.6" textLength="82" lengthAdjust="spacingAndGlyphs">Time [UT]</text>
<text transform="translate(66.3,305.2) rotate(-90)" x="0" y="0" text-anchor="middle" font-family="Liberation Sans, sans-serif" font-size="16.6" textLength="103" lengthAdjust="spacingAndGlyphs">TEC [UNITS]</text>
<text x="387.5" y="51.9" text-anchor="middle" font-family="Liberation Sans, sans-serif" font-size="16.6" textLength="139" lengthAdjust="spacingAndGlyphs">AYACUCHO, Peru</text>
<text x="39" y="30.6" font-family="Liberation Sans, sans-serif" font-size="14.2" textLength="80.5" lengthAdjust="spacingAndGlyphs">2013/07/09</text>
<text x="760.5" y="26.8" text-anchor="end" font-family="Liberation Sans, sans-serif" font-size="13.4" textLength="100.5" lengthAdjust="spacingAndGlyphs">rx_bias = 44.0</text>
<text x="760.5" y="41.5" text-anchor="end" font-family="Liberation Sans, sans-serif" font-size="13.4" textLength="103" lengthAdjust="spacingAndGlyphs">elevation &gt; 30</text>
<text x="800" y="587" text-anchor="end" font-family="Liberation Sans, sans-serif" font-size="11.2" fill="#b4b4b4">LISN</text>
<text x="800" y="598" text-anchor="end" font-family="Liberation Sans, sans-serif" font-size="11.2" fill="#b4b4b4" textLength="231.5" lengthAdjust="spacingAndGlyphs">Low-Latitude Ionospheric Sensor Network</text>
<defs><linearGradient id="cb" x1="0" y1="0" x2="0" y2="1"><stop offset="0.0" stop-color="#c00000"/><stop offset="0.07" stop-color="#d80000"/><stop offset="0.14" stop-color="#ff1a00"/><stop offset="0.18" stop-color="#ff5000"/><stop offset="0.24" stop-color="#ffa000"/><stop offset="0.29" stop-color="#ffc800"/><stop offset="0.34" stop-color="#f0e800"/><stop offset="0.39" stop-color="#c8f000"/><stop offset="0.45" stop-color="#60f000"/><stop offset="0.5" stop-color="#10e000"/><stop offset="0.56" stop-color="#00c400"/><stop offset="0.61" stop-color="#00a420"/><stop offset="0.66" stop-color="#00a060"/><stop offset="0.71" stop-color="#00a098"/><stop offset="0.77" stop-color="#00a0c0"/><stop offset="0.82" stop-color="#0088e0"/><stop offset="0.87" stop-color="#0050e8"/><stop offset="0.93" stop-color="#0018d8"/><stop offset="1.0" stop-color="#0000a0"/></linearGradient></defs>
<rect x="704.2" y="182.2" width="12.299999999999955" height="245.0" fill="url(#cb)" stroke="#000" stroke-width="1.3"/>
<text x="721.3" y="202.50" font-family="Liberation Sans, sans-serif" font-size="11.4" textLength="15.2" lengthAdjust="spacingAndGlyphs">−9</text>
<text x="721.3" y="228.75" font-family="Liberation Sans, sans-serif" font-size="11.4" textLength="22.2" lengthAdjust="spacingAndGlyphs">−10</text>
<text x="721.3" y="255.00" font-family="Liberation Sans, sans-serif" font-size="11.4" textLength="22.2" lengthAdjust="spacingAndGlyphs">−11</text>
<text x="721.3" y="281.25" font-family="Liberation Sans, sans-serif" font-size="11.4" textLength="22.2" lengthAdjust="spacingAndGlyphs">−12</text>
<text x="721.3" y="307.50" font-family="Liberation Sans, sans-serif" font-size="11.4" textLength="22.2" lengthAdjust="spacingAndGlyphs">−13</text>
<text x="721.3" y="333.75" font-family="Liberation Sans, sans-serif" font-size="11.4" textLength="22.2" lengthAdjust="spacingAndGlyphs">−14</text>
<text x="721.3" y="360.00" font-family="Liberation Sans, sans-serif" font-size="11.4" textLength="22.2" lengthAdjust="spacingAndGlyphs">−15</text>
<text x="721.3" y="386.25" font-family="Liberation Sans, sans-serif" font-size="11.4" textLength="22.2" lengthAdjust="spacingAndGlyphs">−16</text>
<text x="721.3" y="412.50" font-family="Liberation Sans, sans-serif" font-size="11.4" textLength="22.2" lengthAdjust="spacingAndGlyphs">−17</text>
<path d="M716.5 199.30H710.5M716.5 225.55H710.5M716.5 251.80H710.5M716.5 278.05H710.5M716.5 304.30H710.5M716.5 330.55H710.5M716.5 356.80H710.5M716.5 383.05H710.5M716.5 409.30H710.5" stroke="#000" stroke-width="1.1"/>
<text transform="translate(760.4,305.6) rotate(-90)" x="0" y="0" text-anchor="middle" font-family="Liberation Sans, sans-serif" font-size="14" textLength="56" lengthAdjust="spacingAndGlyphs">Latitude</text>
</svg>
</body></html>
